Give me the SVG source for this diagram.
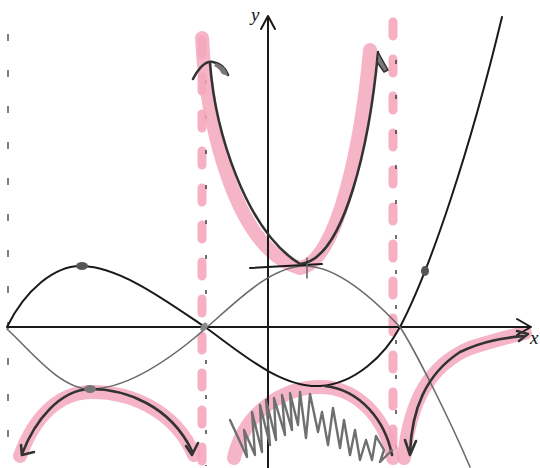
<svg xmlns="http://www.w3.org/2000/svg" width="540" height="468" viewBox="0 0 540 468">
<style>
.pink{fill:none;stroke:#f5a8bc;stroke-width:14;stroke-linecap:round;stroke-linejoin:round;opacity:0.85}
.asym{fill:none;stroke:#f6b0c2;stroke-width:9;stroke-linecap:round;stroke-dasharray:14 23}
.tick{fill:none;stroke:#333;stroke-width:1.4;stroke-dasharray:4 31}
.ink{fill:none;stroke:#1a1a1a;stroke-width:2;stroke-linecap:round;stroke-linejoin:round}
.ink2{fill:none;stroke:#333;stroke-width:2.6;stroke-linecap:round;stroke-linejoin:round}
.gray{fill:none;stroke:#6a6a6a;stroke-width:1.6;stroke-linecap:round;stroke-linejoin:round}
.scrib{fill:none;stroke:#6f6f6f;stroke-width:2.4;stroke-linecap:round;stroke-linejoin:round}
.lbl{font-family:"Liberation Serif",serif;font-style:italic;font-size:19px;fill:#111}
</style>
<rect width="540" height="468" fill="#fff"/>
<g id="asymptotes">
<line class="asym" x1="202" y1="40" x2="202" y2="466"/>
<line class="asym" x1="393" y1="22" x2="393" y2="466"/>
<line class="tick" x1="206" y1="80" x2="206" y2="466"/>
<line class="tick" x1="396" y1="60" x2="396" y2="466"/>
<line x1="8" y1="34" x2="8" y2="462" fill="none" stroke="#555" stroke-width="1.5" stroke-dasharray="7 29"/>
</g>
<g id="pink-bands">
<path class="pink" d="M202,38 C207,130 237,250 300,268 C338,262 362,140 370,50"/>
<path class="pink" d="M20,456 C35,415 60,392 92,392 C130,392 175,410 194,455"/>
<path class="pink" d="M234,458 C245,410 285,387 320,387 C355,387 385,415 393,458"/>
<path class="pink" d="M404,458 C410,400 430,365 470,348 C495,340 510,336 525,333"/>
</g>
<g id="axes">
<line class="ink" x1="8" y1="327" x2="530" y2="327"/>
<polyline class="ink" points="517,319 531,327 517,335"/>
<line class="ink" x1="268" y1="468" x2="268" y2="17"/>
<polyline class="ink" points="261,29 268,16 275,29"/>
<text class="lbl" x="251" y="21">y</text>
<text class="lbl" x="530" y="344">x</text>
</g>
<g id="curves">
<path class="ink" d="M7,327 C25,290 55,265 82,266 C120,267 165,300 205,327 C240,352 280,388 320,386 C355,384 385,355 400,327 C430,270 470,150 502,17"/>
<path class="gray" d="M7,329 C30,350 60,389 90,389 C130,389 175,355 205,329 C235,303 270,266 305,266 C335,266 370,295 400,327 C415,350 450,420 470,467"/>
<line class="ink" x1="250" y1="268" x2="322" y2="264" stroke="#333"/>
<line class="gray" x1="307" y1="258" x2="307" y2="278" stroke-width="2"/>
</g>
<g id="reciprocal">
<path class="ink2" d="M210,63 C215,130 245,230 300,264 C345,260 370,140 378,52"/>
<path class="ink2" d="M193,79 Q203,60 213,62 Q224,64 228,75"/>
<path d="M216,63 Q226,66 228,76 L222,74 Q219,68 214,66 Z" fill="#777"/>
<path d="M378,52 L388,70 L384,72 L377,62 Z" fill="#777" stroke="#333" stroke-width="1.5" stroke-linejoin="round"/>
<path class="ink2" d="M22,454 C35,420 60,390 90,389 C125,389 170,405 192,451"/>
<polyline class="ink2" points="21,445 22,455 34,452"/>
<polyline class="ink2" points="186,446 192,455 198,443"/>
<path class="ink2" d="M325,386 C360,390 385,420 392,455"/>
<path class="ink2" d="M410,452 C412,410 425,375 460,352 C485,340 505,338 523,336"/>
<polyline class="ink2" points="405,440 410,455 416,441"/>
<polyline class="ink2" points="517,331 528,334 519,341"/>
<polyline class="scrib" points="230,420 247,457 244,430 255,455 252,412 262,452 260,405 270,445 266,400 276,440 274,398 285,435 282,395 292,430 290,393 298,425 300,392 306,438 310,394 318,432 322,412 328,445 333,408 340,448 344,420 350,455 355,430 360,460 366,440 372,460 376,436 384,450 380,462 392,450"/>
</g>
<g id="points">
<ellipse cx="82" cy="266" rx="6" ry="4" fill="#555"/>
<ellipse cx="90" cy="389" rx="6" ry="4" fill="#777"/>
<ellipse cx="425" cy="271" rx="4" ry="5" fill="#555"/>
<ellipse cx="204" cy="327" rx="3" ry="5" fill="#888" transform="rotate(30 204 327)"/>
</g>
</svg>
